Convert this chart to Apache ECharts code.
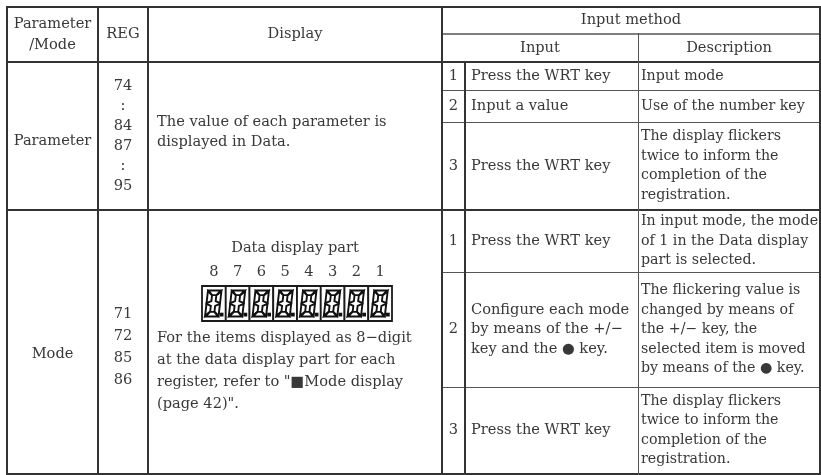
<!DOCTYPE html>
<html><head><meta charset="utf-8">
<script src="https://cdn.jsdelivr.net/npm/echarts@6/dist/echarts.min.js"></script>
<style>html,body{margin:0;padding:0;background:#fff}#chart{width:821px;height:475px}</style>
</head><body><div id="chart"></div>
<script>
// ---------- table content ----------
const headerLabels = ['Parameter\n/Mode', 'REG', 'Display', 'Input method', 'Input', 'Description'];
const groupNames = ['Parameter', 'Mode'];
const paramRegs = ['74', ':', '84', '87', ':', '95'];
const modeRegs = ['71', '72', '85', '86'];
const paramDisplay = 'The value of each parameter is\ndisplayed in Data.';
const modeDisplayTitle = 'Data display part';
const digitPositions = ['8', '7', '6', '5', '4', '3', '2', '1'];
const digitValues = ['0', '0', '0', '0', '0', '0', '0', '0'];
const modeDisplayNote = 'For the items displayed as 8\u2212digit\nat the data display part for each\nregister, refer to "\u25A0Mode display\n(page 42)".';
const stepNumbers = ['1', '2', '3'];
const paramInputs = ['Press the WRT key', 'Input a value', 'Press the WRT key'];
const paramDescriptions = ['Input mode', 'Use of the number key', 'The display flickers\ntwice to inform the\ncompletion of the\nregistration.'];
const modeInputs = ['Press the WRT key', 'Configure each mode\nby means of the +/\u2212\nkey and the \u25CF key.', 'Press the WRT key'];
const modeDescriptions = ['In input mode, the mode\nof 1 in the Data display\npart is selected.', 'The flickering value is\nchanged by means of\nthe +/\u2212 key, the\nselected item is moved\nby means of the \u25CF key.', 'The display flickers\ntwice to inform the\ncompletion of the\nregistration.'];

// ---------- layout ----------
const COLS = [7, 98, 148, 442, 465, 638, 820];
const ROWS = [7, 34, 62, 90, 122, 210, 272, 387, 474];
const TEXT = '#383838';
const FONT = '"DejaVu Serif", "Liberation Serif", serif';
const FS = 14.6;
const FS_DESC = 14.2;

const cells = [];
function cell(c0, c1, r0, r1, text, opt) { cells.push(Object.assign({ c0, c1, r0, r1, text }, opt || {})); }
cell(0, 1, 0, 2, headerLabels[0], { lh: 21 });
cell(1, 2, 0, 2, headerLabels[1]);
cell(2, 3, 0, 2, headerLabels[2]);
cell(3, 6, 0, 1, headerLabels[3]);
cell(3, 5, 1, 2, headerLabels[4]);
cell(5, 6, 1, 2, headerLabels[5]);
// parameter group
cell(0, 1, 2, 5, groupNames[0], { dy: 5 });
cell(1, 2, 2, 5, paramRegs.join('\n'), { lh: 20 });
cell(2, 3, 2, 5, paramDisplay, { align: 'left', pad: 9, lh: 20, dy: -4 });
for (let i = 0; i < 3; i++) {
  cell(3, 4, 2 + i, 3 + i, stepNumbers[i]);
  cell(4, 5, 2 + i, 3 + i, paramInputs[i], { align: 'left', pad: 6 });
  cell(5, 6, 2 + i, 3 + i, paramDescriptions[i], { align: 'left', pad: 3, fs: FS_DESC });
}
// mode group
cell(0, 1, 5, 8, groupNames[1], { dy: 12 });
cell(1, 2, 5, 8, modeRegs.join('\n'), { lh: 22, dy: 5 });
cell(2, 3, 5, 8, modeDisplayTitle, { top: 38 });
cell(2, 3, 5, 8, modeDisplayNote, { align: 'left', pad: 9, top: 117, lh: 22, vtop: true });
for (let i = 0; i < 3; i++) {
  cell(3, 4, 5 + i, 6 + i, stepNumbers[i]);
  cell(4, 5, 5 + i, 6 + i, modeInputs[i], { align: 'left', pad: 6 });
  cell(5, 6, 5 + i, 6 + i, modeDescriptions[i], { align: 'left', pad: 3, fs: FS_DESC });
}

// grid lines
const lines = [];
function hl(r, c0, c1, w) { lines.push({ h: true, r, c0, c1, w }); }
function vl(c, r0, r1, w) { lines.push({ h: false, c, r0, r1, w }); }
hl(0, 0, 6, 2); hl(8, 0, 6, 2); hl(2, 0, 6, 2); hl(5, 0, 6, 2);
hl(1, 3, 6, 1.5);
hl(3, 3, 6, 1); hl(4, 3, 6, 1); hl(6, 3, 6, 1); hl(7, 3, 6, 1);
vl(0, 0, 8, 2); vl(6, 0, 8, 2); vl(1, 0, 8, 2); vl(2, 0, 8, 2); vl(3, 0, 8, 2);
vl(4, 2, 8, 2); vl(5, 1, 8, 1);

// digit display geometry (relative to mode display cell)
const DIG = { x: 202, cw: 23.75, top: 76, h: 35 };

const chart = echarts.init(document.getElementById('chart'), null, { renderer: 'canvas' });
chart.setOption({
  animation: false,
  backgroundColor: '#fff',
  grid: { left: 0, right: 0, top: 0, bottom: 0 },
  xAxis: { type: 'value', min: 0, max: 821, show: false },
  yAxis: { type: 'value', min: 0, max: 475, inverse: true, show: false },
  series: [
    {
      type: 'custom', silent: true, clip: false,
      data: lines.map((l, i) => [i]),
      renderItem(params, api) {
        const l = lines[api.value(0)];
        const off = (l.w % 2 === 1) ? 0.5 : 0;
        let a, b;
        if (l.h) { a = api.coord([COLS[l.c0], ROWS[l.r]]); b = api.coord([COLS[l.c1], ROWS[l.r]]); a[1] += off; b[1] += off; a[0] -= 1; b[0] += 1; }
        else { a = api.coord([COLS[l.c], ROWS[l.r0]]); b = api.coord([COLS[l.c], ROWS[l.r1]]); a[0] += off; b[0] += off; a[1] -= 1; b[1] += 1; }
        return { type: 'line', shape: { x1: a[0], y1: a[1], x2: b[0], y2: b[1] },
          style: { stroke: l.w >= 2 ? '#333' : '#555', lineWidth: l.w } };
      }
    },
    {
      type: 'custom', silent: true, clip: false,
      data: cells.map((c, i) => [i]),
      renderItem(params, api) {
        const d = cells[api.value(0)];
        const p0 = api.coord([COLS[d.c0], ROWS[d.r0]]);
        const p1 = api.coord([COLS[d.c1], ROWS[d.r1]]);
        const align = d.align || 'center';
        const x = align === 'left' ? p0[0] + (d.pad || 6) : (p0[0] + p1[0]) / 2;
        const y = d.top != null ? p0[1] + d.top : (p0[1] + p1[1]) / 2 + (d.dy || 0);
        return { type: 'text', style: { text: d.text, x, y, fill: TEXT, fontFamily: FONT, fontSize: d.fs || FS,
          align, verticalAlign: d.vtop ? 'top' : 'middle', lineHeight: d.lh || 19.5 } };
      }
    },
    {
      type: 'custom', silent: true, clip: false,
      data: digitValues.map((v, i) => [i]),
      renderItem(params, api) {
        const i = api.value(0);
        const base = api.coord([COLS[2], ROWS[5]]);
        const cx = api.coord([DIG.x + i * DIG.cw, ROWS[5]])[0];
        const y0 = base[1] + DIG.top;
        const children = [];
        children.push({ type: 'rect', shape: { x: cx, y: y0, width: DIG.cw, height: DIG.h },
          style: { fill: '#fff', stroke: '#1a1a1a', lineWidth: 1.8 } });
        children.push({ type: 'text', style: { text: digitPositions[i], x: cx + DIG.cw / 2, y: y0 - 14,
          fill: TEXT, fontFamily: FONT, fontSize: FS, align: 'center', verticalAlign: 'middle' } });
        const W = 13.5, H = 26, S = 3, t = 4.6;
        const ox = cx + 3, oy = y0 + 4.5;
        const sk = (p) => [ox + p[0] + S * (1 - p[1] / H), oy + p[1]];
        const segs = [
          [[0.6, 0], [W - 0.6, 0], [W - t, t], [t, t]],
          [[0, 0.7], [t, t + 0.3], [t, H / 2 - t / 2], [0, H / 2 - 0.3]],
          [[0, H / 2 + 0.3], [t, H / 2 + t / 2], [t, H - t - 0.3], [0, H - 0.7]],
          [[W, 0.7], [W, H / 2 - 0.3], [W - t, H / 2 - t / 2], [W - t, t + 0.3]],
          [[W, H / 2 + 0.3], [W, H - 0.7], [W - t, H - t - 0.3], [W - t, H / 2 + t / 2]],
          [[0.6, H], [t, H - t], [W - t, H - t], [W - 0.6, H]]
        ];
        if (digitValues[i] === '0') {
          segs.forEach(s => children.push({ type: 'polygon', shape: { points: s.map(sk) },
            style: { fill: '#fff', stroke: '#111', lineWidth: 1.9 } }));
        }
        children.push({ type: 'rect', shape: { x: ox + W + 1.2, y: oy + H - 3.8, width: 3.8, height: 3.8 },
          style: { fill: '#111' } });
        return { type: 'group', children };
      }
    }
  ]
});
</script>
</body></html>
